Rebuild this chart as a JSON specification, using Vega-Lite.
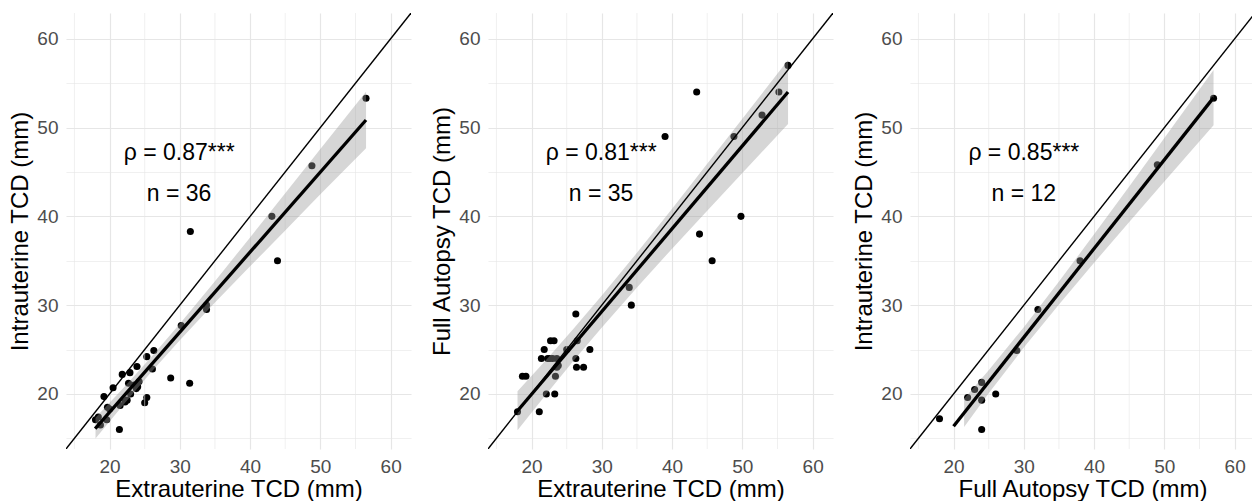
{
  "$schema": "https://vega.github.io/schema/vega-lite/v6.json",
  "background": "white",
  "padding": {"left": 8, "top": 12, "right": 0, "bottom": 0},
  "spacing": 19,
  "config": {
    "font": "Liberation Sans",
    "view": {"stroke": null},
    "axis": {
      "domain": false,
      "ticks": false,
      "labelFontSize": 19,
      "labelColor": "#4d4d4d",
      "titleFontSize": 24,
      "titleFontWeight": "normal",
      "titleColor": "black",
      "labelPadding": 8,
      "gridColor": "#e6e6e6"
    },
    "axisX": {"titlePadding": 1},
    "axisY": {"titlePadding": 4}
  },
  "datasets": {
    "minor": [{"gx": 15}, {"gx": 25}, {"gx": 35}, {"gx": 45}, {"gx": 55}],
    "p1": [
      {"x": 56.5, "y": 53.3}, {"x": 48.8, "y": 45.7}, {"x": 43.1, "y": 40.0}, {"x": 43.9, "y": 35.0},
      {"x": 31.5, "y": 38.3}, {"x": 33.8, "y": 29.5}, {"x": 33.8, "y": 30.0}, {"x": 30.2, "y": 27.7},
      {"x": 28.7, "y": 21.8}, {"x": 31.4, "y": 21.2}, {"x": 26.3, "y": 24.9}, {"x": 25.3, "y": 24.2},
      {"x": 26.1, "y": 22.8}, {"x": 23.9, "y": 23.1}, {"x": 22.9, "y": 22.4}, {"x": 21.8, "y": 22.2},
      {"x": 22.7, "y": 21.2}, {"x": 20.5, "y": 20.7}, {"x": 23.8, "y": 20.6}, {"x": 23.0, "y": 20.0},
      {"x": 19.2, "y": 19.7}, {"x": 25.3, "y": 19.6}, {"x": 25.0, "y": 19.0}, {"x": 22.2, "y": 19.1},
      {"x": 21.5, "y": 18.7}, {"x": 19.7, "y": 18.5}, {"x": 18.4, "y": 17.4}, {"x": 18.0, "y": 17.1},
      {"x": 19.6, "y": 17.1}, {"x": 18.7, "y": 16.5}, {"x": 21.4, "y": 16.0}, {"x": 24.0, "y": 20.8},
      {"x": 22.5, "y": 19.3}, {"x": 23.5, "y": 21.0}, {"x": 20.0, "y": 18.3}, {"x": 24.2, "y": 21.4}
    ],
    "p2": [
      {"x": 56.5, "y": 57.0}, {"x": 55.2, "y": 54.0}, {"x": 52.8, "y": 51.4}, {"x": 48.8, "y": 49.0},
      {"x": 43.5, "y": 54.0}, {"x": 39.0, "y": 49.0}, {"x": 49.8, "y": 40.0}, {"x": 43.9, "y": 38.0},
      {"x": 45.7, "y": 35.0}, {"x": 33.9, "y": 32.0}, {"x": 34.2, "y": 30.0}, {"x": 26.3, "y": 29.0},
      {"x": 28.3, "y": 25.0}, {"x": 27.4, "y": 23.0}, {"x": 26.4, "y": 23.0}, {"x": 26.3, "y": 24.0},
      {"x": 26.5, "y": 26.0}, {"x": 25.0, "y": 25.0}, {"x": 22.7, "y": 26.0}, {"x": 23.2, "y": 26.0},
      {"x": 21.8, "y": 25.0}, {"x": 21.4, "y": 24.0}, {"x": 22.3, "y": 24.0}, {"x": 23.0, "y": 24.0},
      {"x": 23.6, "y": 24.0}, {"x": 23.6, "y": 23.0}, {"x": 23.4, "y": 22.0}, {"x": 18.7, "y": 22.0},
      {"x": 19.2, "y": 22.0}, {"x": 22.1, "y": 20.0}, {"x": 23.3, "y": 20.0}, {"x": 18.0, "y": 18.0},
      {"x": 21.1, "y": 18.0}, {"x": 22.6, "y": 24.0}, {"x": 23.8, "y": 23.2}
    ],
    "p3": [
      {"x": 57.0, "y": 53.3}, {"x": 49.0, "y": 45.8}, {"x": 38.0, "y": 35.0}, {"x": 32.0, "y": 29.5},
      {"x": 29.0, "y": 24.9}, {"x": 26.0, "y": 20.0}, {"x": 24.0, "y": 21.3}, {"x": 23.0, "y": 20.5},
      {"x": 22.0, "y": 19.6}, {"x": 24.0, "y": 19.3}, {"x": 18.0, "y": 17.2}, {"x": 24.0, "y": 16.0}
    ],
    "f1": [
      {"kind": "fit", "x": 17.95, "fit": 16.1}, {"kind": "fit", "x": 56.5, "fit": 50.85},
      {"kind": "band", "x": 18, "lo": 14.99, "hi": 17.31},
      {"kind": "band", "x": 22, "lo": 18.81, "hi": 20.71},
      {"kind": "band", "x": 26, "lo": 22.53, "hi": 24.21},
      {"kind": "band", "x": 30, "lo": 26.05, "hi": 27.91},
      {"kind": "band", "x": 35, "lo": 30.3, "hi": 32.7},
      {"kind": "band", "x": 40, "lo": 34.37, "hi": 37.63},
      {"kind": "band", "x": 45, "lo": 38.4, "hi": 42.6},
      {"kind": "band", "x": 50, "lo": 42.49, "hi": 47.59},
      {"kind": "band", "x": 56.5, "lo": 47.68, "hi": 54.02}
    ],
    "f2": [
      {"kind": "fit", "x": 17.95, "fit": 18.05}, {"kind": "fit", "x": 56.5, "fit": 54.0},
      {"kind": "band", "x": 18, "lo": 15.9, "hi": 20.3},
      {"kind": "band", "x": 22, "lo": 19.88, "hi": 23.78},
      {"kind": "band", "x": 26, "lo": 23.76, "hi": 27.36},
      {"kind": "band", "x": 30, "lo": 27.49, "hi": 31.09},
      {"kind": "band", "x": 35, "lo": 32.0, "hi": 35.9},
      {"kind": "band", "x": 40, "lo": 36.36, "hi": 40.86},
      {"kind": "band", "x": 45, "lo": 40.62, "hi": 45.92},
      {"kind": "band", "x": 50, "lo": 44.88, "hi": 50.98},
      {"kind": "band", "x": 56.5, "lo": 50.4, "hi": 57.6}
    ],
    "f3": [
      {"kind": "fit", "x": 20.0, "fit": 16.37}, {"kind": "fit", "x": 57.0, "fit": 53.37},
      {"kind": "band", "x": 21.5, "lo": 16.27, "hi": 19.47},
      {"kind": "band", "x": 25, "lo": 20.07, "hi": 22.67},
      {"kind": "band", "x": 30, "lo": 25.22, "hi": 27.52},
      {"kind": "band", "x": 35, "lo": 30.07, "hi": 32.67},
      {"kind": "band", "x": 40, "lo": 34.77, "hi": 37.97},
      {"kind": "band", "x": 45, "lo": 39.37, "hi": 43.37},
      {"kind": "band", "x": 50, "lo": 43.92, "hi": 48.82},
      {"kind": "band", "x": 57, "lo": 50.27, "hi": 56.47}
    ],
    "diag": [{"x": 0, "y": 0}, {"x": 80, "y": 80}],
    "lab": [
      {"panel": 1, "x": 29.9, "y": 47.1, "label": "ρ = 0.87***"},
      {"panel": 1, "x": 29.9, "y": 42.5, "label": "n = 36"},
      {"panel": 2, "x": 29.9, "y": 47.1, "label": "ρ = 0.81***"},
      {"panel": 2, "x": 29.9, "y": 42.5, "label": "n = 35"},
      {"panel": 3, "x": 30.0, "y": 47.1, "label": "ρ = 0.85***"},
      {"panel": 3, "x": 30.0, "y": 42.5, "label": "n = 12"}
    ]
  },
  "hconcat": [
    {
      "width": 345, "height": 436,
      "layer": [
        {"data": {"name": "p1"}, "mark": {"type": "point", "filled": true, "size": 50, "color": "black", "opacity": 1},
         "encoding": {
           "x": {"field": "x", "type": "quantitative", "title": "Extrauterine TCD (mm)", "scale": {"domain": [13.8, 62.9], "nice": false, "zero": false},
                 "axis": {"values": [20,30,40,50,60], "gridWidth": 1.2}},
           "y": {"field": "y", "type": "quantitative", "title": "Intrauterine TCD (mm)", "scale": {"domain": [13.8, 62.9], "nice": false, "zero": false},
                 "axis": {"values": [15,20,25,30,35,40,45,50,55,60], "labelExpr": "datum.value % 10 === 0 ? datum.label : ''", "gridWidth": {"condition": {"test": "datum.value % 10 === 0", "value": 1.2}, "value": 0.6}}}
         }},
        {"data": {"name": "minor"}, "mark": {"type": "rule", "color": "#e6e6e6", "strokeWidth": 0.6},
         "encoding": {
           "x": {"field": "gx", "type": "quantitative", "title": "Extrauterine TCD (mm)", "scale": {"domain": [13.8, 62.9], "nice": false, "zero": false}}
         }},
        {"data": {"name": "f1"}, "transform": [{"filter": "datum.kind === 'band'"}], "mark": {"type": "area", "color": "#999999", "opacity": 0.4},
         "encoding": {
           "x": {"field": "x", "type": "quantitative", "title": "Extrauterine TCD (mm)", "scale": {"domain": [13.8, 62.9], "nice": false, "zero": false}},
           "y": {"field": "lo", "type": "quantitative", "title": "Intrauterine TCD (mm)", "scale": {"domain": [13.8, 62.9], "nice": false, "zero": false}},
           "y2": {"field": "hi"}
         }},
        {"data": {"name": "f1"}, "transform": [{"filter": "datum.kind === 'fit'"}], "mark": {"type": "line", "color": "black", "strokeWidth": 3.3},
         "encoding": {
           "x": {"field": "x", "type": "quantitative", "title": "Extrauterine TCD (mm)", "scale": {"domain": [13.8, 62.9], "nice": false, "zero": false}},
           "y": {"field": "fit", "type": "quantitative", "title": "Intrauterine TCD (mm)", "scale": {"domain": [13.8, 62.9], "nice": false, "zero": false}}
         }},
        {"data": {"name": "diag"}, "mark": {"type": "line", "color": "black", "strokeWidth": 1.4, "clip": true},
         "encoding": {
           "x": {"field": "x", "type": "quantitative", "title": "Extrauterine TCD (mm)", "scale": {"domain": [13.8, 62.9], "nice": false, "zero": false}},
           "y": {"field": "y", "type": "quantitative", "title": "Intrauterine TCD (mm)", "scale": {"domain": [13.8, 62.9], "nice": false, "zero": false}}
         }},
        {"data": {"name": "lab"}, "transform": [{"filter": "datum.panel === 1"}], "mark": {"type": "text", "fontSize": 23, "color": "black"},
         "encoding": {
           "x": {"field": "x", "type": "quantitative", "title": "Extrauterine TCD (mm)", "scale": {"domain": [13.8, 62.9], "nice": false, "zero": false}},
           "y": {"field": "y", "type": "quantitative", "title": "Intrauterine TCD (mm)", "scale": {"domain": [13.8, 62.9], "nice": false, "zero": false}},
           "text": {"field": "label"}
         }}
      ]
    },
    {
      "width": 345, "height": 436,
      "layer": [
        {"data": {"name": "p2"}, "mark": {"type": "point", "filled": true, "size": 50, "color": "black", "opacity": 1},
         "encoding": {
           "x": {"field": "x", "type": "quantitative", "title": "Extrauterine TCD (mm)", "scale": {"domain": [13.8, 62.9], "nice": false, "zero": false},
                 "axis": {"values": [20,30,40,50,60], "gridWidth": 1.2}},
           "y": {"field": "y", "type": "quantitative", "title": "Full Autopsy TCD (mm)", "scale": {"domain": [13.8, 62.9], "nice": false, "zero": false},
                 "axis": {"values": [15,20,25,30,35,40,45,50,55,60], "labelExpr": "datum.value % 10 === 0 ? datum.label : ''", "gridWidth": {"condition": {"test": "datum.value % 10 === 0", "value": 1.2}, "value": 0.6}}}
         }},
        {"data": {"name": "minor"}, "mark": {"type": "rule", "color": "#e6e6e6", "strokeWidth": 0.6},
         "encoding": {
           "x": {"field": "gx", "type": "quantitative", "title": "Extrauterine TCD (mm)", "scale": {"domain": [13.8, 62.9], "nice": false, "zero": false}}
         }},
        {"data": {"name": "f2"}, "transform": [{"filter": "datum.kind === 'band'"}], "mark": {"type": "area", "color": "#999999", "opacity": 0.4},
         "encoding": {
           "x": {"field": "x", "type": "quantitative", "title": "Extrauterine TCD (mm)", "scale": {"domain": [13.8, 62.9], "nice": false, "zero": false}},
           "y": {"field": "lo", "type": "quantitative", "title": "Full Autopsy TCD (mm)", "scale": {"domain": [13.8, 62.9], "nice": false, "zero": false}},
           "y2": {"field": "hi"}
         }},
        {"data": {"name": "f2"}, "transform": [{"filter": "datum.kind === 'fit'"}], "mark": {"type": "line", "color": "black", "strokeWidth": 3.3},
         "encoding": {
           "x": {"field": "x", "type": "quantitative", "title": "Extrauterine TCD (mm)", "scale": {"domain": [13.8, 62.9], "nice": false, "zero": false}},
           "y": {"field": "fit", "type": "quantitative", "title": "Full Autopsy TCD (mm)", "scale": {"domain": [13.8, 62.9], "nice": false, "zero": false}}
         }},
        {"data": {"name": "diag"}, "mark": {"type": "line", "color": "black", "strokeWidth": 1.4, "clip": true},
         "encoding": {
           "x": {"field": "x", "type": "quantitative", "title": "Extrauterine TCD (mm)", "scale": {"domain": [13.8, 62.9], "nice": false, "zero": false}},
           "y": {"field": "y", "type": "quantitative", "title": "Full Autopsy TCD (mm)", "scale": {"domain": [13.8, 62.9], "nice": false, "zero": false}}
         }},
        {"data": {"name": "lab"}, "transform": [{"filter": "datum.panel === 2"}], "mark": {"type": "text", "fontSize": 23, "color": "black"},
         "encoding": {
           "x": {"field": "x", "type": "quantitative", "title": "Extrauterine TCD (mm)", "scale": {"domain": [13.8, 62.9], "nice": false, "zero": false}},
           "y": {"field": "y", "type": "quantitative", "title": "Full Autopsy TCD (mm)", "scale": {"domain": [13.8, 62.9], "nice": false, "zero": false}},
           "text": {"field": "label"}
         }}
      ]
    },
    {
      "width": 345, "height": 436,
      "layer": [
        {"data": {"name": "p3"}, "mark": {"type": "point", "filled": true, "size": 50, "color": "black", "opacity": 1},
         "encoding": {
           "x": {"field": "x", "type": "quantitative", "title": "Full Autopsy TCD (mm)", "scale": {"domain": [13.8, 62.9], "nice": false, "zero": false},
                 "axis": {"values": [20,30,40,50,60], "gridWidth": 1.2}},
           "y": {"field": "y", "type": "quantitative", "title": "Intrauterine TCD (mm)", "scale": {"domain": [13.8, 62.9], "nice": false, "zero": false},
                 "axis": {"values": [15,20,25,30,35,40,45,50,55,60], "labelExpr": "datum.value % 10 === 0 ? datum.label : ''", "gridWidth": {"condition": {"test": "datum.value % 10 === 0", "value": 1.2}, "value": 0.6}}}
         }},
        {"data": {"name": "minor"}, "mark": {"type": "rule", "color": "#e6e6e6", "strokeWidth": 0.6},
         "encoding": {
           "x": {"field": "gx", "type": "quantitative", "title": "Full Autopsy TCD (mm)", "scale": {"domain": [13.8, 62.9], "nice": false, "zero": false}}
         }},
        {"data": {"name": "f3"}, "transform": [{"filter": "datum.kind === 'band'"}], "mark": {"type": "area", "color": "#999999", "opacity": 0.4},
         "encoding": {
           "x": {"field": "x", "type": "quantitative", "title": "Full Autopsy TCD (mm)", "scale": {"domain": [13.8, 62.9], "nice": false, "zero": false}},
           "y": {"field": "lo", "type": "quantitative", "title": "Intrauterine TCD (mm)", "scale": {"domain": [13.8, 62.9], "nice": false, "zero": false}},
           "y2": {"field": "hi"}
         }},
        {"data": {"name": "f3"}, "transform": [{"filter": "datum.kind === 'fit'"}], "mark": {"type": "line", "color": "black", "strokeWidth": 3.3},
         "encoding": {
           "x": {"field": "x", "type": "quantitative", "title": "Full Autopsy TCD (mm)", "scale": {"domain": [13.8, 62.9], "nice": false, "zero": false}},
           "y": {"field": "fit", "type": "quantitative", "title": "Intrauterine TCD (mm)", "scale": {"domain": [13.8, 62.9], "nice": false, "zero": false}}
         }},
        {"data": {"name": "diag"}, "mark": {"type": "line", "color": "black", "strokeWidth": 1.4, "clip": true},
         "encoding": {
           "x": {"field": "x", "type": "quantitative", "title": "Full Autopsy TCD (mm)", "scale": {"domain": [13.8, 62.9], "nice": false, "zero": false}},
           "y": {"field": "y", "type": "quantitative", "title": "Intrauterine TCD (mm)", "scale": {"domain": [13.8, 62.9], "nice": false, "zero": false}}
         }},
        {"data": {"name": "lab"}, "transform": [{"filter": "datum.panel === 3"}], "mark": {"type": "text", "fontSize": 23, "color": "black"},
         "encoding": {
           "x": {"field": "x", "type": "quantitative", "title": "Full Autopsy TCD (mm)", "scale": {"domain": [13.8, 62.9], "nice": false, "zero": false}},
           "y": {"field": "y", "type": "quantitative", "title": "Intrauterine TCD (mm)", "scale": {"domain": [13.8, 62.9], "nice": false, "zero": false}},
           "text": {"field": "label"}
         }}
      ]
    }
  ]
}
